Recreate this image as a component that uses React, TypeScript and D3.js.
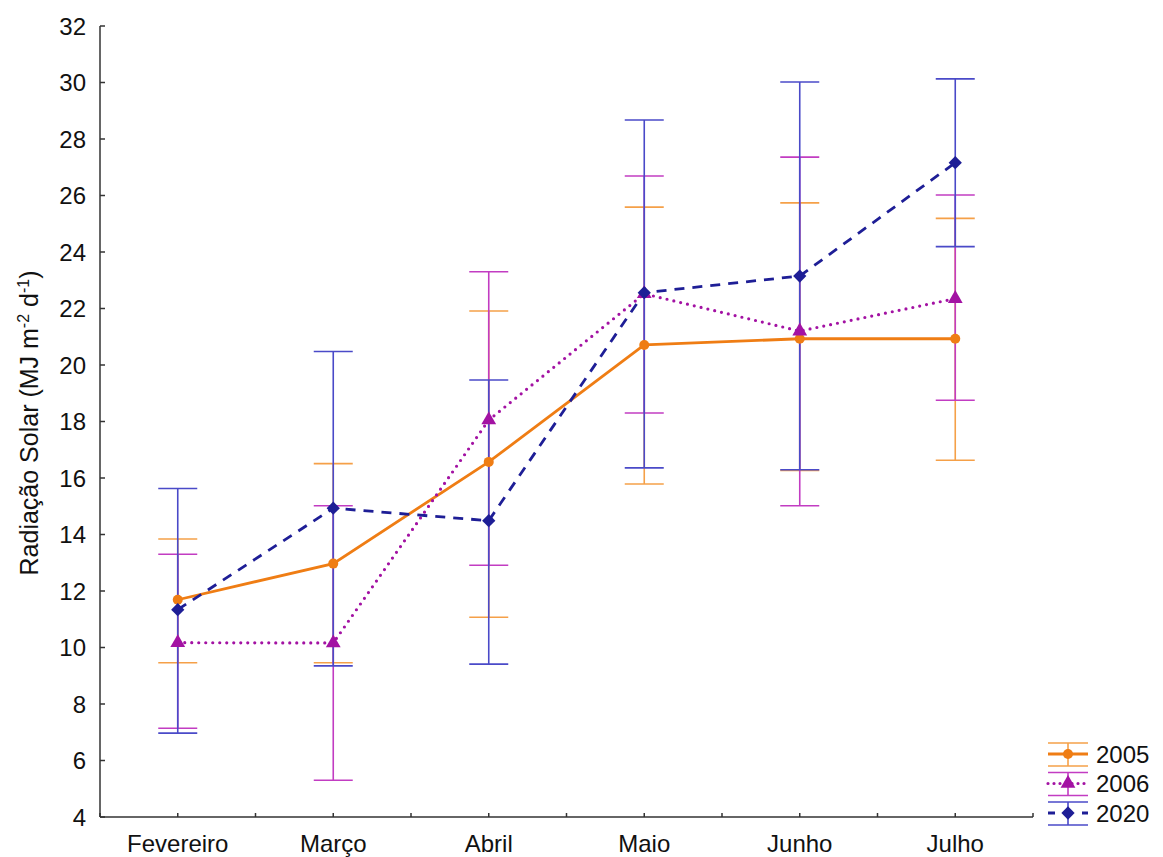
import React from 'react';
import * as d3 from 'd3';

// months on the x axis
const categories = ['Fevereiro', 'Março', 'Abril', 'Maio', 'Junho', 'Julho'];

// 2005
const mean2005 = [11.69, 12.97, 16.57, 20.71, 20.93, 20.93];
const low2005 = [9.46, 9.46, 11.07, 15.79, 16.27, 16.63];
const high2005 = [13.84, 16.51, 21.91, 25.59, 25.74, 25.19];

// 2006
const mean2006 = [10.17, 10.16, 18.05, 22.52, 21.2, 22.35];
const low2006 = [7.14, 5.3, 12.91, 18.3, 15.02, 18.75];
const high2006 = [13.3, 15.02, 23.3, 26.69, 27.36, 26.02];

// 2020
const mean2020 = [11.34, 14.93, 14.49, 22.56, 23.15, 27.16];
const low2020 = [6.97, 9.35, 9.41, 16.36, 16.29, 24.19];
const high2020 = [15.63, 20.48, 19.47, 28.67, 30.02, 30.13];

const yTicks = [4, 6, 8, 10, 12, 14, 16, 18, 20, 22, 24, 26, 28, 30, 32];

const series = [
  { name: '2005', mean: mean2005, low: low2005, high: high2005, line: '#ef7d14', bar: '#f5a048', dash: null, marker: 'circle' },
  { name: '2006', mean: mean2006, low: low2006, high: high2006, line: '#a312a3', bar: '#c23cc2', dash: '0 7', marker: 'triangle' },
  { name: '2020', mean: mean2020, low: low2020, high: high2020, line: '#1e1e96', bar: '#4a4ac8', dash: '10 8', marker: 'diamond' },
];

const font = '"Liberation Sans", Arial, sans-serif';

const Marker = ({ type, x, y, color }) => {
  if (type === 'circle') return <circle cx={x} cy={y} r={5} fill={color} />;
  if (type === 'triangle')
    return <path d={d3.symbol(d3.symbolTriangle, 95)()} transform={`translate(${x},${y})`} fill={color} />;
  // diamond = square turned 45 degrees
  return <path d={d3.symbol(d3.symbolSquare, 88)()} transform={`translate(${x},${y}) rotate(45)`} fill={color} />;
};

export default function App() {
  const width = 1163;
  const height = 857;
  const left = 100;
  const right = 1033;
  const top = 26;
  const bottom = 817;

  const x = d3.scaleBand().domain(categories).range([left, right]);
  const y = d3.scaleLinear().domain([4, 32]).range([bottom, top]);
  const cx = (c) => x(c) + x.bandwidth() / 2;
  const cap = 19.5;

  const bandTicks = [...categories.map((c) => x(c)), right];

  return (
    <svg width={width} height={height} style={{ position: 'absolute', left: 0, top: 0, fontFamily: font }}>
      <rect width={width} height={height} fill="#fff" />

      {/* error bars, 2005 under 2006 under 2020 */}
      {series.map((s) => (
        <g key={'err' + s.name} stroke={s.bar} strokeWidth={1.6}>
          {categories.map((c, i) => (
            <g key={c}>
              <line x1={cx(c)} x2={cx(c)} y1={y(s.low[i])} y2={y(s.high[i])} />
              <line x1={cx(c) - cap} x2={cx(c) + cap} y1={y(s.low[i])} y2={y(s.low[i])} />
              <line x1={cx(c) - cap} x2={cx(c) + cap} y1={y(s.high[i])} y2={y(s.high[i])} />
            </g>
          ))}
        </g>
      ))}

      {/* mean lines */}
      {series.map((s) => (
        <path
          key={'line' + s.name}
          d={d3.line<number>().x((_, i) => cx(categories[i])).y((d) => y(d))(s.mean)}
          fill="none"
          stroke={s.line}
          strokeWidth={s.dash === '0 7' ? 3.2 : 2.8}
          strokeDasharray={s.dash || undefined}
          strokeLinecap={s.dash === '0 7' ? 'round' : 'butt'}
        />
      ))}

      {/* markers */}
      {series.map((s) => (
        <g key={'mk' + s.name}>
          {categories.map((c, i) => (
            <Marker key={c} type={s.marker} x={cx(c)} y={y(s.mean[i])} color={s.line} />
          ))}
        </g>
      ))}

      {/* axes */}
      <g stroke="#333" strokeWidth={1.5}>
        <line x1={left} x2={left} y1={top} y2={bottom} />
        <line x1={left} x2={right} y1={bottom} y2={bottom} />
        {yTicks.map((t) => (
          <line key={t} x1={left} x2={left + 5} y1={y(t)} y2={y(t)} />
        ))}
        {bandTicks.map((t) => (
          <line key={'b' + t} x1={t} x2={t} y1={bottom} y2={bottom - 4} />
        ))}
        {categories.map((c) => (
          <line key={'c' + c} x1={cx(c)} x2={cx(c)} y1={bottom} y2={bottom - 4} />
        ))}
      </g>

      {yTicks.map((t) => (
        <text key={t} x={86} y={y(t)} dy="0.36em" textAnchor="end" fontSize={24} fill="#111">
          {t}
        </text>
      ))}
      {categories.map((c) => (
        <text key={c} x={cx(c)} y={852} textAnchor="middle" fontSize={24} fill="#111">
          {c}
        </text>
      ))}

      <text transform="translate(38,423) rotate(-90)" textAnchor="middle" fontSize={25} fill="#111">
        Radiação Solar (MJ m
        <tspan dy={-9} fontSize={16}>-2</tspan>
        <tspan dy={9}> d</tspan>
        <tspan dy={-9} fontSize={16}>-1</tspan>
        <tspan dy={9}>)</tspan>
      </text>

      {/* legend */}
      {series.map((s, i) => {
        const ly = 754 + i * 29.5;
        return (
          <g key={'lg' + s.name}>
            <g stroke={s.bar} strokeWidth={1.6}>
              <line x1={1048} x2={1088} y1={ly - 11} y2={ly - 11} />
              <line x1={1048} x2={1088} y1={ly + 12} y2={ly + 12} />
              <line x1={1068} x2={1068} y1={ly - 11} y2={ly + 12} />
            </g>
            <line
              x1={1048}
              x2={1088}
              y1={ly}
              y2={ly}
              stroke={s.line}
              strokeWidth={s.dash === '0 7' ? 3.2 : 2.8}
              strokeDasharray={s.dash === '0 7' ? '0 6' : s.dash ? '7 10' : undefined}
              strokeLinecap={s.dash === '0 7' ? 'round' : 'butt'}
            />
            <Marker type={s.marker} x={1068} y={ly} color={s.line} />
            <text x={1096} y={ly} dy="0.36em" fontSize={24} fill="#111">
              {s.name}
            </text>
          </g>
        );
      })}
    </svg>
  );
}
